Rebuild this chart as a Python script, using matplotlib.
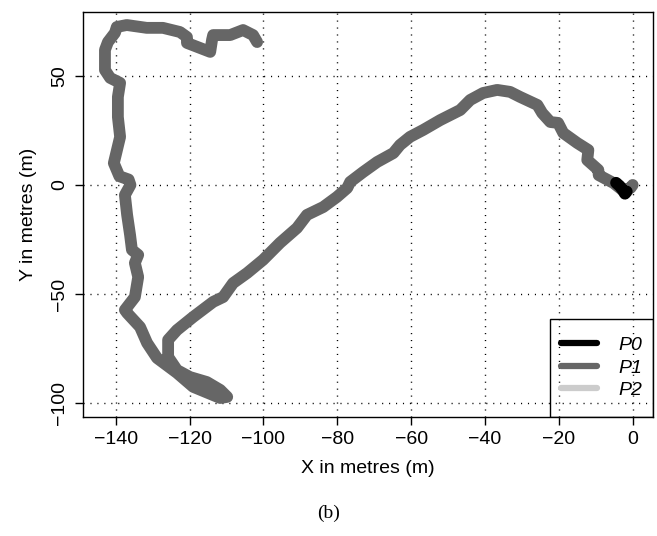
import matplotlib
matplotlib.use("Agg")
import matplotlib.pyplot as plt
from matplotlib.lines import Line2D
from matplotlib.patches import Rectangle

plt.rcParams["font.family"] = ["Liberation Sans", "DejaVu Sans"]

# Trajectory P1 (grey), in metres
p1_x = [0.0, -0.6, -2.8, -5.2, -9.2, -9.3, -12.3, -12.0, -15.0, -18.8, -20.2,
        -22.3, -24.5, -25.8, -30.5, -33.2, -36.7, -40.5, -44.0, -46.7, -52.1,
        -56.7, -60.3, -63.0, -64.8, -69.2, -73.0, -76.5, -77.3, -80.1, -83.8,
        -88.2, -90.9, -95.5, -100.1, -104.4, -108.2, -110.9, -113.6, -119.0,
        -123.4, -125.8, -125.8, -123.4, -119.9, -115.3, -111.7, -109.8, -111.7,
        -119.0, -123.4, -128.8, -131.5, -133.4, -136.9, -137.5, -134.8, -133.9,
        -134.8, -133.9, -135.6, -136.1, -136.9, -137.5, -136.0, -136.5, -139.0,
        -140.5, -138.8, -139.4, -139.4, -138.8, -141.5, -142.9, -142.9, -142.1,
        -140.2, -139.7, -137.0, -131.6, -127.2, -122.6, -120.7, -120.7, -114.4,
        -113.9, -113.6, -109.0, -105.5, -102.8, -101.7]
p1_y = [0.0, -1.4, -2.3, 0.9, 4.5, 6.9, 11.4, 16.0, 19.2, 23.8, 28.4,
        28.8, 32.9, 36.6, 40.3, 42.6, 43.5, 42.1, 38.9, 34.3, 29.7,
        25.2, 22.0, 18.3, 14.6, 10.5, 5.9, 1.4, -1.4, -5.5, -10.1,
        -13.7, -19.7, -26.5, -34.3, -40.3, -44.9, -51.3, -53.5, -60.4,
        -66.4, -70.9, -78.7, -84.7, -87.9, -90.2, -93.8, -97.0, -97.5,
        -92.4, -86.0, -79.2, -72.3, -65.0, -58.6, -57.2, -51.3, -42.1,
        -35.7, -32.0, -29.7, -22.9, -13.7, -4.6, 0.0, 2.5, 4.0,
        10.0, 22.0, 31.1, 40.3, 46.7, 49.0, 52.6, 61.8, 65.4,
        69.6, 72.3, 73.2, 71.9, 71.9, 70.0, 67.7, 65.0, 60.9,
        66.4, 68.6, 68.6, 70.9, 68.6, 65.4]

# Trajectory P0 (black), short piece near the origin
p0_x = [-4.5, -3.5, -2.6, -2.1, -1.6]
p0_y = [1.0, -0.5, -2.5, -4.0, -3.0]

x_ticks = [-140, -120, -100, -80, -60, -40, -20, 0]
y_ticks = [-100, -50, 0, 50]

fig = plt.figure(figsize=(6.57, 5.36), dpi=100)
ax = fig.add_axes([0.1266, 0.2224, 0.8673, 0.7558])

# dotted grid
for x in x_ticks:
    ax.axvline(x, color="black", lw=1, linestyle=(0, (0.8, 4.2)), zorder=1)
for y in y_ticks:
    ax.axhline(y, color="black", lw=1, linestyle=(0, (0.8, 4.2)), zorder=1)

ax.plot(p1_x, p1_y, color="#666666", lw=8.5, solid_capstyle="round",
        solid_joinstyle="round", zorder=2)
ax.plot(p0_x, p0_y, color="black", lw=8.5, solid_capstyle="round",
        solid_joinstyle="round", zorder=3)

ax.set_xlim(-148.8, 5.5)
ax.set_ylim(-106.1, 79.3)
ax.set_xticks(x_ticks)
ax.set_yticks(y_ticks)
ax.tick_params(direction="out", length=6, width=1, labelsize=14, pad=4)
ax.tick_params(axis="y", labelrotation=90, pad=5)
for lbl in ax.get_yticklabels():
    lbl.set_va("center")
for s in ax.spines.values():
    s.set_linewidth(1)

ax.set_xlabel("X in metres (m)", fontsize=14, labelpad=9)
ax.set_ylabel("Y in metres (m)", fontsize=14, labelpad=10)

# legend box (R style, drawn separately) and its entries
box_x0, box_h = 0.819, 0.2415
ax.add_patch(Rectangle((box_x0, 0), 1 - box_x0, box_h, transform=ax.transAxes,
                       fill=False, edgecolor="black", lw=1, zorder=5))
handles = [Line2D([], [], color="black", lw=4.5, solid_capstyle="round"),
           Line2D([], [], color="#666666", lw=4.5, solid_capstyle="round"),
           Line2D([], [], color="#cccccc", lw=4.5, solid_capstyle="round")]
ax.legend(handles, ["P0", "P1", "P2"], loc="center",
          bbox_to_anchor=((box_x0 + 1) / 2, box_h / 2), frameon=False,
          handlelength=1.85, handletextpad=1.1, labelspacing=0.25,
          borderpad=0, prop={"size": 14, "style": "italic"})

fig.text(0.5, 1 - 513 / 536, "(b)", ha="center", va="center", fontsize=14,
         family="Liberation Serif")

fig.savefig("out.png", dpi=100)
